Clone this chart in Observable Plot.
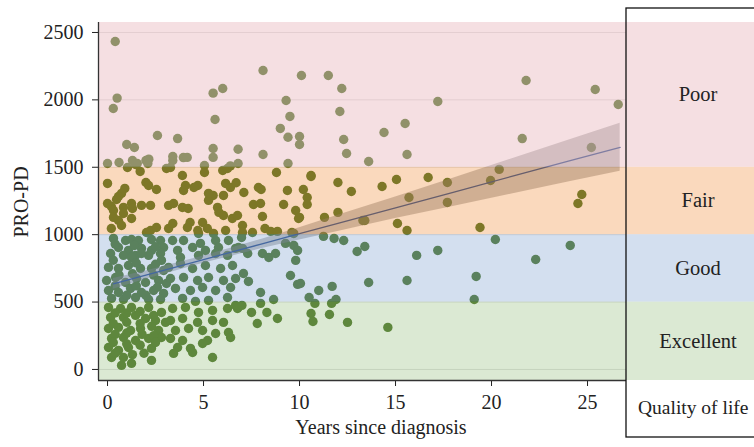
<!DOCTYPE html>
<html><head><meta charset="utf-8">
<script src="https://cdn.jsdelivr.net/npm/d3@7"></script>
<script src="https://cdn.jsdelivr.net/npm/@observablehq/plot@0.6"></script>
<style>
html,body{margin:0;padding:0;background:#fff;}
#chart{width:754px;height:447px;overflow:hidden;}
</style></head><body><div id="chart"></div>
<script>
const xTicks = [0, 5, 10, 15, 20, 25];
const yTicks = [0, 500, 1000, 1500, 2000, 2500];
const xDomain = [-0.47, 27.03];
const yDomain = [-82, 2574];

const qualityLabels = ["Excellent", "Good", "Fair", "Poor"];
const bandFrom = [-82, 500, 1000, 1500];
const bandTo = [500, 1000, 1500, 2574];
const bandColors = ["#a5c891", "#96b2d8", "#f2a05a", "#ecc2c8"];
const bandOpacity = [0.4, 0.42, 0.4, 0.52];

const fitYears = [0.3, 2, 5, 8, 10, 12, 15, 18, 21, 24, 26.7];
const fitValue = [635, 700, 815, 930, 1007, 1084, 1199, 1314, 1430, 1545, 1648];
const fitLow   = [595, 670, 788, 895, 960, 1024, 1119, 1209, 1300, 1390, 1470];
const fitHigh  = [675, 730, 842, 965, 1052, 1144, 1279, 1419, 1560, 1700, 1826];

const poorPts = [[0.4,2433],[0.5,2013],[0.3,1936],[1.0,1669],[1.4,1647],[2.6,1736],[3.65,1713],[5.5,2050],[6.0,2084],[5.6,1854],[5.5,1639],[6.8,1634],[8.1,2218],[10.1,2181],[9.3,1995],[9.5,1877],[9.0,1788],[9.4,1723],[10.0,1728],[10.0,1669],[0.0,1528],[0.6,1535],[1.3,1550],[1.55,1528],[1.46,1521],[2.0,1550],[2.1,1528],[2.15,1560],[3.4,1550],[3.4,1580],[3.95,1572],[4.15,1573],[5.05,1513],[5.5,1573],[6.4,1510],[6.8,1528],[8.1,1595],[9.4,1528],[11.5,2181],[12.2,2084],[12.1,1914],[12.3,1706],[12.45,1602],[13.6,1543],[14.4,1758],[15.5,1825],[15.6,1595],[17.2,1988],[21.8,2144],[21.6,1713],[25.4,2077],[26.6,1966],[25.2,1647]];

const fairPts = [[1.04,1498],[1.7,1469],[3.07,1491],[3.28,1498],[3.9,1439],[5.05,1461],[6.0,1476],[6.25,1491],[8.8,1461],[10.6,1439],[20.4,1484],[0,1380],[2.0,1387],[2.14,1365],[2.55,1335],[0.9,1343],[0.73,1306],[0.57,1283],[0.47,1261],[0,1231],[0.2,1209],[0.31,1179],[0.83,1202],[1.25,1231],[1.3,1194],[1.77,1217],[2.24,1217],[0.83,1157],[1.25,1120],[0.57,1105],[0.31,1128],[0.2,1046],[0.73,1068],[2.24,1031],[2.55,1053],[2.03,1016],[3.18,1217],[3.18,1046],[4.06,1365],[4.7,1365],[3.96,1328],[6.15,1380],[6.4,1350],[5.5,1291],[6.04,1291],[5.26,1254],[3.44,1231],[3.9,1202],[4.2,1194],[5.73,1202],[5.8,1165],[3.4,1083],[4.3,1090],[4.16,1053],[4.95,1090],[5.2,1046],[6.04,1142],[6.5,1120],[4.7,1031],[6.15,1031],[4.74,1009],[5.52,1009],[4.5,1350],[5.26,1306],[6.7,1385],[7.1,1313],[7.86,1350],[8.0,1335],[9.37,1328],[7.6,1224],[7.97,1231],[9.17,1224],[9.8,1179],[9.95,1120],[8.07,1135],[6.77,1142],[7.03,1068],[7.55,1016],[8.2,1046],[8.5,1024],[8.85,1024],[9.6,1016],[7.03,1016],[10.6,1432],[12.0,1387],[10.2,1335],[12.7,1320],[10.4,1276],[10.4,1224],[10.0,1128],[11.3,1128],[12.0,1165],[13.3,1105],[13.4,1105],[14.3,1357],[15.05,1409],[16.7,1424],[17.7,1387],[15.7,1276],[17.7,1239],[15.1,1083],[15.6,1031],[19.95,1402],[19.4,1053],[24.7,1298],[24.5,1231],[9.7,1009]];

const goodPts = [[0.31,972],[0.94,957],[1.25,964],[1.61,957],[2.29,964],[2.76,957],[0.57,905],[1.09,883],[1.77,898],[2.29,883],[2.92,905],[1.46,846],[2.14,846],[2.76,860],[0.16,860],[0.83,846],[1.25,831],[1.77,860],[2.81,809],[0.05,757],[0.57,749],[1.09,771],[1.72,749],[2.29,749],[2.92,734],[-0.05,660],[0.42,682],[0.94,645],[1.51,675],[1.98,645],[2.66,660],[3.07,638],[0.05,586],[0.57,571],[1.2,601],[1.77,571],[2.4,586],[2.92,564],[0.21,527],[0.83,519],[1.46,534],[2.14,519],[2.76,519],[3.39,957],[3.96,957],[4.84,935],[5.63,957],[6.3,957],[3.65,883],[4.43,905],[5.1,883],[5.78,905],[6.67,898],[3.8,831],[4.74,846],[6.25,846],[5.63,860],[3.18,757],[3.8,786],[4.43,749],[5.1,771],[5.89,749],[6.51,771],[3.28,675],[3.96,682],[4.69,660],[5.26,682],[6.04,660],[6.67,675],[3.54,601],[4.32,586],[4.95,608],[5.63,586],[6.41,608],[3.91,527],[4.58,505],[5.26,512],[6.25,534],[0.4,930],[1.4,920],[2.5,910],[0.3,810],[1.5,790],[2.5,780],[0.6,700],[1.3,710],[2.4,700],[0.4,620],[1.5,620],[2.6,610],[1.0,550],[2.0,550],[6.82,905],[7.03,898],[7.3,860],[8.07,860],[8.4,831],[8.75,860],[9.27,935],[9.7,920],[9.9,883],[9.8,809],[9.53,697],[9.9,631],[7.08,712],[7.34,653],[7.97,571],[8.65,519],[6.98,979],[11.25,987],[11.8,972],[12.3,957],[13.0,875],[13.4,912],[16.1,846],[17.2,883],[20.2,964],[22.3,816],[24.1,920],[10.05,638],[13.6,645],[15.6,660],[19.2,690],[19.1,519],[10.5,534],[11.0,586],[11.7,616],[11.9,519]];

const excellentPts = [[0.05,460],[0.68,452],[1.25,460],[2.14,460],[2.81,423],[0.16,386],[0.83,386],[1.46,401],[1.98,378],[2.5,363],[3.02,349],[0.05,304],[0.57,312],[1.2,289],[1.72,304],[2.66,289],[0.21,230],[0.83,237],[1.46,215],[2.14,230],[2.81,237],[0.05,163],[0.57,141],[1.09,163],[2.29,156],[0.21,89],[0.83,89],[1.25,45],[0.73,30],[2.29,67],[0.4,420],[1.0,420],[1.7,430],[2.4,400],[0.3,340],[1.0,350],[1.7,340],[2.3,320],[0.4,260],[1.0,270],[1.8,260],[2.4,250],[0.3,200],[1.0,190],[1.7,180],[2.5,200],[0.4,120],[1.3,110],[1.9,120],[3.39,452],[4.06,460],[4.74,423],[5.47,438],[6.25,452],[6.77,452],[3.28,363],[3.91,378],[4.69,349],[5.47,363],[6.04,349],[3.54,289],[4.22,304],[4.95,289],[5.63,267],[6.3,274],[3.28,230],[3.91,215],[5.21,215],[6.41,237],[3.65,163],[4.32,156],[4.95,193],[3.44,119],[4.43,126],[5.47,89],[6.67,475],[6.8,460],[7.0,475],[7.5,423],[8.3,423],[8.85,378],[7.8,341],[7.97,490],[10.8,490],[11.67,490],[10.6,415],[10.7,356],[11.56,408],[12.5,349],[14.6,312]];

const pts = [...poorPts, ...fairPts, ...goodPts, ...excellentPts].map(([x, y]) => ({x, y}));
const fit = fitYears.map((x, i) => ({x, y: fitValue[i], lo: fitLow[i], hi: fitHigh[i]}));
const bands = qualityLabels.map((q, i) => ({q, y1: bandFrom[i], y2: bandTo[i], fill: bandColors[i], op: bandOpacity[i]}));

const W = 754, H = 447, mL = 98, mR = 128, mT = 22, mB = 67;
const serif = "'Liberation Serif', 'DejaVu Serif', 'Times New Roman', serif";

const plot = Plot.plot({
  width: W, height: H,
  marginLeft: mL, marginRight: mR, marginTop: mT, marginBottom: mB,
  style: {fontFamily: serif, fontSize: "20px", color: "#222", background: "#fff"},
  x: {domain: xDomain, ticks: xTicks, tickSize: 6, tickPadding: 8, tickFormat: d => String(d), label: null},
  y: {domain: yDomain, ticks: yTicks, tickSize: 6, tickPadding: 9, tickFormat: d => String(d), label: null},
  marks: [
    Plot.ruleY(yTicks, {stroke: "#999", strokeOpacity: 0.35}),
    Plot.dot(pts, {x: "x", y: "y", r: 4.7, fill: "#2f5d05", stroke: "none"}),
    Plot.areaY(fit, {x: "x", y1: "lo", y2: "hi", fill: "#666", fillOpacity: 0.45}),
    Plot.line(fit, {x: "x", y: "y", stroke: "#0a3278", strokeWidth: 1.3}),
    ...bands.map(b => Plot.rect([b], {y1: "y1", y2: "y2", fill: b.fill, fillOpacity: b.op})),
    Plot.ruleX([xDomain[0]], {stroke: "#333", strokeWidth: 1.3}),
    Plot.ruleY([yDomain[0]], {stroke: "#333", strokeWidth: 1.3})
  ]
});

const svg = d3.select(plot);
svg.selectAll('[aria-label$="tick label"]').attr("font-size", 20).style("font-size", "20px")
  .selectAll("text").style("font-size", "20px").style("font-family", serif);

const ys = plot.scale("y");
const xs = plot.scale("x");
const xr = xs.apply(xDomain[1]);

// legend swatches continuing the bands
bands.forEach(b => {
  const top = ys.apply(b.y2), bot = ys.apply(b.y1);
  svg.append("rect").attr("x", xr).attr("y", top).attr("width", W - xr).attr("height", bot - top)
    .attr("fill", b.fill).attr("fill-opacity", b.op);
  svg.append("text").attr("x", xr + 72).attr("y", (top + bot) / 2)
    .attr("text-anchor", "middle").attr("dominant-baseline", "central")
    .attr("font-family", serif).attr("font-size", 20.5).attr("fill", "#222").text(b.q);
});
svg.append("text").attr("x", xr + 12).attr("y", 407)
  .attr("text-anchor", "start").attr("dominant-baseline", "central")
  .attr("font-family", serif).attr("font-size", 19.5).attr("fill", "#222").text("Quality of life");
svg.append("rect").attr("x", xr).attr("y", 8).attr("width", 200).attr("height", 429)
  .attr("fill", "none").attr("stroke", "#111").attr("stroke-width", 1.3);

// axis titles
svg.append("text").attr("x", 381).attr("y", 434).attr("text-anchor", "middle")
  .attr("font-family", serif).attr("font-size", 20).attr("fill", "#222").text("Years since diagnosis");
svg.append("text").attr("transform", "translate(28,202) rotate(-90)").attr("text-anchor", "middle")
  .attr("font-family", serif).attr("font-size", 20).attr("fill", "#222").text("PRO-PD");

document.getElementById("chart").appendChild(plot);
</script>
</body></html>
